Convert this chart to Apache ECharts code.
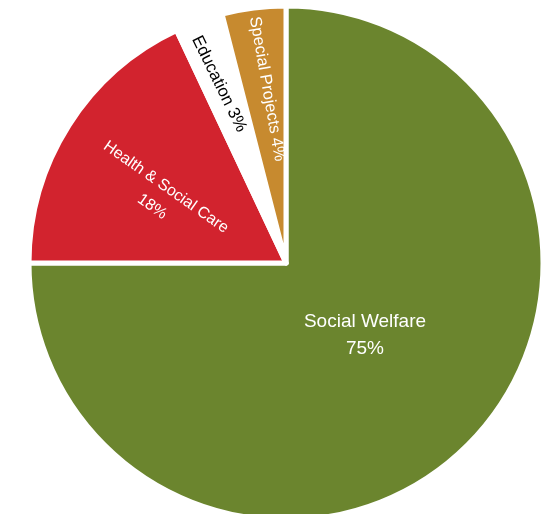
<!DOCTYPE html>
<html>
<head>
<meta charset="utf-8">
<script src="https://cdn.jsdelivr.net/npm/echarts@6/dist/echarts.min.js"></script>
<style>
  html, body { margin: 0; padding: 0; background: #ffffff; }
  #chart { width: 556px; height: 514px; }
</style>
</head>
<body>
<div id="chart"></div>
<script>
// Data
var categories = ['Social Welfare', 'Health & Social Care', 'Education', 'Special Projects'];
var values = [75, 18, 3, 4];

// Styles (not data)
var colors = ['#6B852E', '#D2232E', '#FFFFFF', '#C78A2F'];
var labelColors = ['#FFFFFF', '#FFFFFF', '#000000', '#FFFFFF'];
var labelFormats = ['{b}\n{c}%', '{b}\n{c}%', '{b} {c}%', '{b} {c}%'];
var labelSizes = [19, 16, 17, 16.5];
var labelLineHeights = [27, 24, 20, 20];
var labelPos = [[365, 335], [159, 197], [219, 84], [267, 89]];
var labelRot = [0, -35, -64, -80];

var chart = echarts.init(document.getElementById('chart'), null, { renderer: 'canvas' });

var data = categories.map(function (name, i) {
  return {
    name: name,
    value: values[i],
    itemStyle: { color: colors[i] },
    label: {
      color: labelColors[i],
      formatter: labelFormats[i],
      fontSize: labelSizes[i],
      lineHeight: labelLineHeights[i]
    }
  };
});

chart.setOption({
  animation: false,
  backgroundColor: '#ffffff',
  series: [{
    type: 'pie',
    center: [286, 263],
    radius: [0, 257],
    startAngle: 90,
    clockwise: true,
    avoidLabelOverlap: false,
    itemStyle: { borderColor: '#ffffff', borderWidth: 5 },
    label: {
      show: true,
      position: 'inside',
      fontFamily: '"Liberation Sans", Arial, sans-serif',
      align: 'center',
      verticalAlign: 'middle'
    },
    labelLine: { show: false },
    emphasis: { disabled: true },
    labelLayout: function (params) {
      var i = params.dataIndex;
      return {
        x: labelPos[i][0],
        y: labelPos[i][1],
        rotate: labelRot[i],
        align: 'center',
        verticalAlign: 'middle'
      };
    },
    data: data
  }]
});
</script>
</body>
</html>
